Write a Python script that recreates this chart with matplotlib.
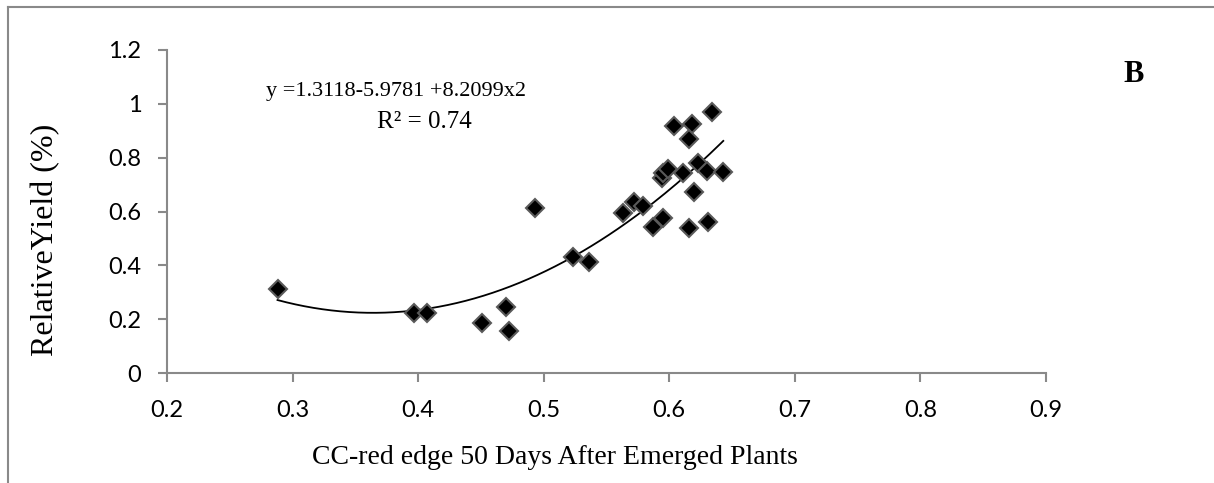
import matplotlib
matplotlib.use("Agg")
import matplotlib.pyplot as plt
import numpy as np
from matplotlib.lines import Line2D

# CC-red edge index at 50 DAE vs relative yield
cc_red_edge = [0.288, 0.397, 0.407, 0.451, 0.470, 0.472, 0.493, 0.5235, 0.536,
               0.563, 0.572, 0.579, 0.587, 0.595, 0.594, 0.595, 0.599, 0.604,
               0.611, 0.618, 0.616, 0.616, 0.620, 0.6225, 0.630, 0.631, 0.634,
               0.643]
rel_yield = [0.312, 0.224, 0.224, 0.184, 0.246, 0.156, 0.613, 0.432, 0.411,
             0.593, 0.636, 0.620, 0.543, 0.575, 0.723, 0.742, 0.757, 0.917,
             0.742, 0.925, 0.869, 0.540, 0.673, 0.781, 0.750, 0.560, 0.968,
             0.748]

# quadratic trend coefficients
c0, c1, c2 = 1.3118, -5.9781, 8.2099

xticks = [0.2, 0.3, 0.4, 0.5, 0.6, 0.7, 0.8, 0.9]
yticks = [0, 0.2, 0.4, 0.6, 0.8, 1.0, 1.2]
ytick_labels = ["0", "0.2", "0.4", "0.6", "0.8", "1", "1.2"]

serif = ["Liberation Serif", "DejaVu Serif"]
sans = ["Lato", "DejaVu Sans"]
axis_grey = "#898989"
W, H = 1214, 483

fig = plt.figure(figsize=(12.14, 4.83), dpi=100)
ax = fig.add_axes([167 / W, 1 - 373 / H, (1046 - 167) / W, (373 - 50) / H])

xs = np.linspace(min(cc_red_edge), max(cc_red_edge), 200)
ax.plot(xs, c0 + c1 * xs + c2 * xs ** 2, color="black", lw=1.3, zorder=2)
ax.plot(cc_red_edge, rel_yield, linestyle="none", marker="D", ms=9.5,
        mfc="black", mec="#5a5a5a", mew=1.5, zorder=3)

ax.set_xlim(0.2, 0.9)
ax.set_ylim(0, 1.2)
ax.set_xticks(xticks)
ax.set_xticklabels([f"{t:.1f}" for t in xticks], fontfamily=sans, fontsize=17)
ax.set_yticks(yticks)
ax.set_yticklabels(ytick_labels, fontfamily=sans, fontsize=17)

for side in ["top", "right"]:
    ax.spines[side].set_visible(False)
for side in ["left", "bottom"]:
    ax.spines[side].set_color(axis_grey)
    ax.spines[side].set_linewidth(1.5)
ax.tick_params(direction="out", length=6.5, width=1.5, color=axis_grey,
               labelcolor="black")
ax.tick_params(axis="x", pad=13)
ax.tick_params(axis="y", pad=12)

# axis titles placed in figure coordinates
fig.text(555 / W, 1 - 457 / H, "CC-red edge 50 Days After Emerged Plants",
         fontfamily=serif, fontsize=20, ha="center", va="center")
fig.text(46 / W, 1 - 240 / H, "RelativeYield (%)", fontfamily=serif,
         fontsize=23, rotation=90, ha="center", va="center")

ax.text(0.382, 1.045, "y =1.3118-5.9781 +8.2099x2", fontfamily=serif,
        fontsize=16, ha="center", va="center")
ax.text(0.405, 0.932, "R² = 0.74", fontfamily=serif, fontsize=18,
        ha="center", va="center")
fig.text(1134 / W, 1 - 74 / H, "B", fontfamily=serif, fontsize=22,
         fontweight="bold", ha="center", va="center")

# frame around the figure (left and top edges)
fig.add_artist(Line2D([8 / W, 8 / W], [0, 1 - 7 / H],
                      transform=fig.transFigure, color=axis_grey, lw=1.5))
fig.add_artist(Line2D([8 / W, 1], [1 - 7 / H, 1 - 7 / H],
                      transform=fig.transFigure, color=axis_grey, lw=1.5))

fig.savefig("out.png", dpi=100)
